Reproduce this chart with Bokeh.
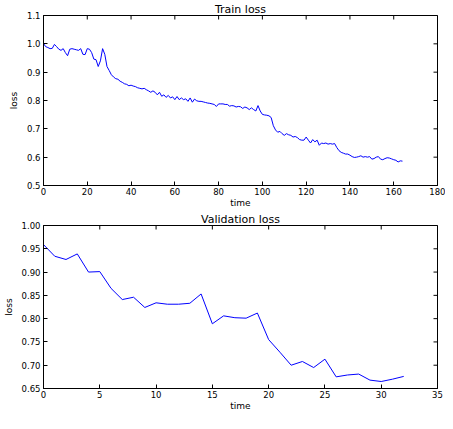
import math
from bokeh.plotting import figure
from bokeh.layouts import column
from bokeh.models import FixedTicker, Range1d, NumeralTickFormatter
from bokeh.embed import file_html
from bokeh.resources import INLINE

# ---- data ----
train_loss = [
    1.001, 0.990, 0.987, 0.983, 0.984, 0.998, 0.990, 0.981, 0.977, 0.983,
    0.969, 0.958, 0.981, 0.983, 0.981, 0.979, 0.977, 0.983, 0.963, 0.962,
    0.983, 0.981, 0.969, 0.946, 0.944, 0.920, 0.940, 0.983, 0.963, 0.920,
    0.906, 0.891, 0.883, 0.877, 0.875, 0.868, 0.864, 0.859, 0.857, 0.852,
    0.854, 0.851, 0.849, 0.845, 0.843, 0.841, 0.843, 0.838, 0.834, 0.829,
    0.834, 0.829, 0.820, 0.829, 0.815, 0.820, 0.811, 0.818, 0.809, 0.813,
    0.803, 0.814, 0.803, 0.809, 0.803, 0.806, 0.797, 0.809, 0.794, 0.805,
    0.799, 0.797, 0.797, 0.795, 0.793, 0.791, 0.790, 0.788, 0.786, 0.779,
    0.788, 0.788, 0.788, 0.786, 0.786, 0.780, 0.782, 0.781, 0.777, 0.779,
    0.778, 0.772, 0.777, 0.774, 0.768, 0.774, 0.768, 0.763, 0.782, 0.763,
    0.751, 0.749, 0.748, 0.746, 0.740, 0.711, 0.696, 0.688, 0.691, 0.683,
    0.677, 0.683, 0.679, 0.677, 0.671, 0.673, 0.669, 0.662, 0.660, 0.660,
    0.671, 0.660, 0.650, 0.662, 0.654, 0.660, 0.642, 0.650, 0.648, 0.650,
    0.646, 0.648, 0.646, 0.648, 0.634, 0.623, 0.617, 0.614, 0.611, 0.611,
    0.607, 0.602, 0.599, 0.600, 0.602, 0.605, 0.600, 0.602, 0.600, 0.602,
    0.593, 0.595, 0.600, 0.602, 0.593, 0.591, 0.595, 0.598, 0.597, 0.594,
    0.591, 0.589, 0.583, 0.587, 0.586,
]
train_time = list(range(len(train_loss)))

val_loss = [
    0.959, 0.934, 0.927, 0.939, 0.900, 0.901, 0.865, 0.841, 0.846, 0.824,
    0.834, 0.831, 0.831, 0.833, 0.853, 0.789, 0.806, 0.802, 0.801, 0.812,
    0.755, 0.728, 0.700, 0.708, 0.695, 0.713, 0.675, 0.679, 0.681, 0.668,
    0.665, 0.670, 0.676,
]
val_time = list(range(len(val_loss)))

train_xticks = [0, 20, 40, 60, 80, 100, 120, 140, 160, 180]
train_yticks = [0.5, 0.6, 0.7, 0.8, 0.9, 1.0, 1.1]
val_xticks = [0, 5, 10, 15, 20, 25, 30, 35]
val_yticks = [0.65, 0.70, 0.75, 0.80, 0.85, 0.90, 0.95, 1.00]

FONT = "DejaVu Sans"


def make(title, x, y, xr, yr, xt, yt, yfmt, height, border_top):
    p = figure(width=445, height=height, output_backend="svg", toolbar_location=None,
               x_range=Range1d(*xr), y_range=Range1d(*yr),
               min_border_left=37, min_border_right=8,
               min_border_top=border_top, min_border_bottom=0)
    p.title.text = title
    p.title.text_font = FONT
    p.title.text_font_size = "11px"
    p.title.text_font_style = "normal"
    p.title.text_color = "black"
    p.title.align = "center"
    p.title.standoff = 0
    p.title.offset = 0
    p.xgrid.visible = False
    p.ygrid.visible = False
    p.outline_line_color = "black"
    p.outline_line_width = 1
    p.background_fill_color = "white"
    p.border_fill_color = "white"

    p.line(x, y, line_color="#0000ff", line_width=1)

    for ax, ticks in ((p.xaxis[0], xt), (p.yaxis[0], yt)):
        ax.ticker = FixedTicker(ticks=ticks)
        ax.major_tick_in = 4
        ax.major_tick_out = 0
        ax.minor_tick_line_color = None
        ax.axis_line_color = "black"
        ax.major_tick_line_color = "black"
        ax.major_label_text_font = FONT
        ax.major_label_text_font_size = "8.5px"
        ax.major_label_text_color = "black"
        ax.axis_label_text_font = FONT
        ax.axis_label_text_font_size = "9px"
        ax.axis_label_text_font_style = "normal"
        ax.axis_label_text_color = "black"
    p.xaxis[0].axis_label = "time"
    p.xaxis[0].major_label_standoff = 2
    p.xaxis[0].axis_label_standoff = 0
    p.yaxis[0].axis_label = "loss"
    p.yaxis[0].major_label_standoff = 3
    p.yaxis[0].axis_label_standoff = 5
    p.yaxis[0].formatter = NumeralTickFormatter(format=yfmt)

    # mirrored inward ticks on the top and right edges (outer half clipped by the frame)
    p.scatter(xt, [yr[1]] * len(xt), marker="dash", size=8, angle=math.pi / 2,
              line_color="black", line_width=1)
    p.scatter([xr[1]] * len(yt), yt, marker="dash", size=8,
              line_color="black", line_width=1)
    return p


p1 = make("Train loss", train_time, train_loss, (0, 180), (0.5, 1.1),
          train_xticks, train_yticks, "0.0", 210, 11)
p2 = make("Validation loss", val_time, val_loss, (0, 35), (0.65, 1.0),
          val_xticks, val_yticks, "0.00", 203, 12)

layout = column(p1, p2, spacing=0)
open("out.html", "w").write(file_html(layout, INLINE))
